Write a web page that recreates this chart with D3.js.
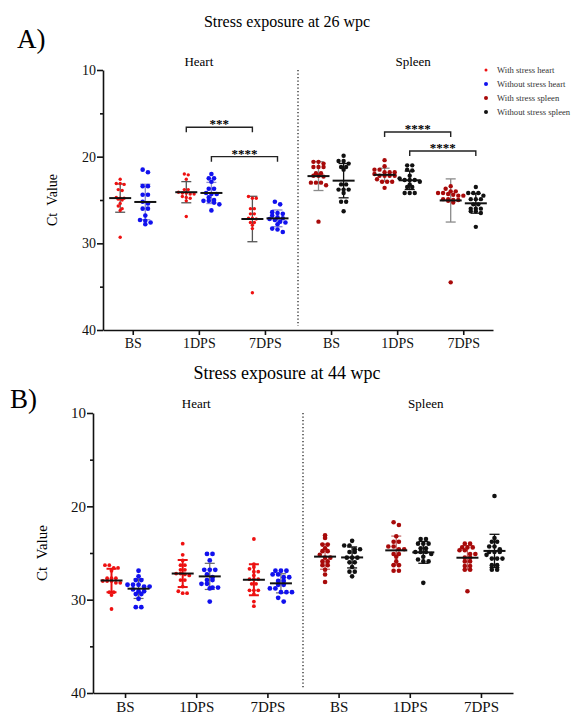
<!DOCTYPE html>
<html>
<head>
<meta charset="utf-8">
<script src="https://cdn.jsdelivr.net/npm/d3@7"></script>
<style>
  body { margin: 0; background: white; }
  svg { display: block; }
  svg text { font-family: "Liberation Serif", Tinos, "DejaVu Serif", serif; }
</style>
</head>
<body>
<script>
const times = ["BS", "1DPS", "7DPS"];
const tissues = ["Heart", "Spleen"];
const seriesNames = ["With stress heart", "Without stress heart", "With stress spleen", "Without stress spleen"];

// Ct values, one array per time point (BS, 1DPS, 7DPS)
const wpc26HeartStress = [
  [22.6, 23.1, 23.1, 23.2, 23.8, 23.9, 24.7, 24.8, 24.8, 24.9, 25.0, 25.4, 25.7, 26.0, 26.2, 29.3],
  [22.0, 22.1, 22.6, 23.8, 23.8, 24.1, 24.2, 24.3, 24.2, 24.3, 24.6, 24.7, 24.8, 25.1, 26.9],
  [24.6, 24.8, 24.8, 26.0, 26.0, 26.6, 26.6, 27.1, 27.1, 27.2, 27.6, 27.6, 27.9, 28.3, 35.7]
];
const wpc26HeartControl = [
  [21.5, 21.8, 23.4, 23.4, 24.4, 24.4, 25.2, 25.4, 26.0, 26.0, 26.8, 27.3, 27.4, 27.6, 27.8],
  [22.0, 22.5, 22.5, 22.9, 23.7, 23.7, 24.2, 24.3, 24.3, 24.7, 25.0, 25.1, 25.1, 25.3, 25.5, 26.2],
  [25.2, 25.5, 26.4, 26.5, 26.6, 26.8, 27.0, 27.1, 27.2, 27.3, 27.5, 27.6, 27.8, 28.3, 28.4, 28.7]
];
const wpc26SpleenStress = [
  [20.6, 20.6, 20.8, 21.2, 21.2, 21.2, 21.9, 21.9, 22.2, 22.2, 22.3, 23.0, 23.0, 23.0, 23.3, 27.5],
  [20.4, 21.1, 21.5, 21.5, 21.8, 21.8, 21.8, 22.0, 22.2, 22.2, 22.2, 22.2, 22.6, 22.9, 22.9, 22.9, 23.6],
  [23.4, 23.7, 24.0, 24.0, 24.2, 24.2, 24.3, 24.4, 24.5, 24.5, 24.9, 24.9, 25.0, 25.0, 25.1, 25.3, 34.5]
];
const wpc26SpleenControl = [
  [19.9, 20.5, 20.5, 20.8, 21.2, 21.2, 21.5, 23.2, 23.2, 23.8, 23.8, 23.8, 24.2, 25.2, 25.2, 26.3],
  [21.0, 21.0, 21.5, 21.6, 22.2, 22.9, 22.5, 22.7, 22.7, 22.7, 23.2, 23.5, 23.5, 24.2, 24.2, 24.2],
  [23.5, 24.2, 24.2, 24.2, 24.5, 24.9, 24.9, 24.9, 25.5, 25.5, 26.0, 26.0, 26.0, 26.3, 26.3, 26.5, 28.1]
];
const wpc44HeartStress = [
  [26.3, 26.3, 26.6, 26.6, 26.9, 27.7, 27.7, 27.7, 28.0, 28.0, 28.0, 28.2, 28.2, 29.2, 29.2, 29.5, 31.0],
  [24.0, 25.2, 25.8, 26.3, 26.3, 26.8, 26.8, 27.2, 27.2, 27.3, 27.4, 27.9, 27.9, 28.6, 29.1, 29.3, 29.3],
  [23.5, 26.2, 26.5, 26.7, 27.0, 27.0, 27.4, 27.8, 27.8, 27.8, 28.3, 28.3, 29.0, 29.0, 29.0, 29.4, 30.2, 30.7]
];
const wpc44HeartControl = [
  [26.9, 27.5, 27.9, 27.9, 28.4, 28.4, 28.4, 28.6, 28.6, 28.9, 29.1, 29.1, 29.4, 29.4, 29.9, 30.8, 30.8],
  [25.1, 25.1, 25.8, 26.8, 26.8, 26.8, 27.3, 27.9, 27.9, 27.6, 28.3, 28.3, 28.7, 28.7, 28.8, 30.2],
  [26.9, 26.9, 26.9, 27.3, 27.3, 27.6, 27.6, 28.0, 28.0, 28.4, 28.4, 28.8, 28.8, 29.2, 29.2, 29.2, 29.8, 30.2]
];
const wpc44SpleenStress = [
  [23.1, 23.4, 24.1, 24.1, 24.5, 24.8, 24.8, 25.2, 25.5, 25.5, 25.9, 25.9, 26.3, 26.3, 26.8, 27.3, 28.1],
  [21.7, 22.0, 23.2, 23.8, 23.8, 24.3, 24.3, 24.6, 24.6, 25.1, 25.1, 25.4, 25.9, 26.3, 26.3, 26.9, 26.9],
  [24.0, 24.0, 24.4, 24.4, 24.4, 24.7, 24.7, 25.1, 25.1, 25.5, 25.5, 25.9, 25.9, 26.4, 26.4, 26.8, 26.8, 29.1]
];
const wpc44SpleenControl = [
  [23.7, 24.2, 24.2, 24.6, 24.6, 24.9, 24.9, 25.5, 25.5, 25.5, 26.0, 26.0, 26.5, 27.0, 27.0, 27.5],
  [23.5, 23.5, 24.0, 24.0, 24.0, 24.5, 24.5, 24.9, 24.9, 24.9, 25.1, 25.4, 25.7, 25.9, 25.9, 28.2],
  [18.9, 23.4, 23.8, 23.8, 24.3, 24.3, 24.6, 24.9, 24.9, 24.9, 25.2, 25.6, 25.6, 25.6, 26.3, 26.3, 26.8, 26.8]
];

// significance brackets: [tissue, from time, to time, group index, label, bracket level (Ct)]
const sig26 = [
  ["Heart", "1DPS", "7DPS", 0, "***", 16.6],
  ["Heart", "1DPS", "7DPS", 1, "****", 20.0],
  ["Spleen", "1DPS", "7DPS", 0, "****", 17.15],
  ["Spleen", "1DPS", "7DPS", 1, "****", 19.35]
];

const serif = '"Liberation Serif", Tinos, "DejaVu Serif", serif';
const width = 574, height = 715;
const svg = d3.select("body").append("svg")
    .attr("width", width)
    .attr("height", height)
    .attr("font-family", serif);

const series = [
  {name: seriesNames[0], tissue: "Heart", g: 0, fill: "#ee1111"},
  {name: seriesNames[1], tissue: "Heart", g: 1, fill: "#1111ee"},
  {name: seriesNames[2], tissue: "Spleen", g: 0, fill: "#a80a0a"},
  {name: seriesNames[3], tissue: "Spleen", g: 1, fill: "#111111"}
];

// GraphPad-like scatter: points sharing a row spread sideways
function rows(values, y, gap, binH) {
  const pts = values.map(v => ({v, py: y(v)})).sort((a, b) => a.py - b.py);
  const bins = d3.group(pts, p => Math.round(p.py / binH));
  for (const b of bins.values()) {
    b.forEach((p, i) => p.dx = (i - (b.length - 1) / 2) * gap);
  }
  return pts;
}

function panel(o) {
  const g = svg.append("g");
  const keys = tissues.flatMap(t => times.map(c => t + "|" + c));
  const x = d3.scalePoint().domain(keys).range([o.left, o.right]).padding(0.45);
  const off = x.step() * 0.19;
  const y = d3.scaleLinear().domain([10, 40]).range([o.top, o.bottom]);

  // titles
  g.append("text")
      .attr("x", 287).attr("y", o.titleY)
      .attr("text-anchor", "middle")
      .attr("font-size", o.titleSize)
      .text(o.title);
  g.append("text")
      .attr("x", o.letterX).attr("y", o.letterY)
      .attr("font-size", 27)
      .text(o.letter);
  g.append("text")
      .attr("x", x("Heart|1DPS")).attr("y", o.subY)
      .attr("text-anchor", "middle")
      .attr("font-size", 13)
      .text("Heart");
  g.append("text")
      .attr("x", x("Spleen|1DPS") + 16).attr("y", o.subY)
      .attr("text-anchor", "middle")
      .attr("font-size", 13)
      .text("Spleen");

  // y label
  g.append("text")
      .attr("transform", `translate(${o.labelX},${(o.top + o.bottom) / 2}) rotate(-90)`)
      .attr("text-anchor", "middle")
      .attr("font-size", o.labelSize)
      .text("Ct\u00a0\u00a0Value");

  // separator
  const sx = (x("Heart|7DPS") + x("Spleen|BS")) / 2;
  g.append("line")
      .attr("x1", sx).attr("x2", sx)
      .attr("y1", o.top).attr("y2", o.bottom - 4)
      .attr("stroke", "#333")
      .attr("stroke-width", 1.4)
      .attr("stroke-dasharray", "1.3,2.2");

  // axes
  const ya = g.append("g")
      .attr("transform", `translate(${o.left},0)`)
      .call(d3.axisLeft(y).tickValues([10, 20, 30, 40]).tickSize(6).tickSizeOuter(0).tickPadding(1));
  g.append("g")
      .attr("transform", `translate(${o.left},0)`)
      .call(d3.axisLeft(y).tickValues([15, 25, 35]).tickSize(3).tickFormat(""))
      .call(s => s.select(".domain").remove());
  const xa = g.append("g")
      .attr("transform", `translate(0,${o.bottom})`)
      .call(d3.axisBottom(x).tickSize(5).tickSizeOuter(0).tickPadding(3)
        .tickFormat(k => k.split("|")[1]));
  for (const a of [ya, xa]) {
    a.attr("font-family", serif).attr("font-size", o.tickSize);
    a.selectAll("path, line").attr("stroke", "#111").attr("stroke-width", 1.6);
    a.selectAll("text").attr("fill", "#111");
  }
  g.selectAll(".tick line").attr("stroke", "#111").attr("stroke-width", 1.6);

  // data: error bars under the dots, mean line on top
  series.forEach((s, si) => {
    const r = o.radius[si];
    o.data[si].forEach((vals, ti) => {
      const cx = x(s.tissue + "|" + times[ti]) + (s.g ? off : -off);
      const m = d3.mean(vals), sd = d3.deviation(vals);
      const eb = g.append("g")
          .attr("stroke", o.barColors[si])
          .attr("stroke-width", o.barWidth[si]);
      eb.append("line")
          .attr("x1", cx).attr("x2", cx)
          .attr("y1", y(m - sd)).attr("y2", y(m + sd));
      eb.selectAll(".cap")
        .data([m - sd, m + sd])
        .join("line")
          .attr("x1", cx - 5).attr("x2", cx + 5)
          .attr("y1", d => y(d)).attr("y2", d => y(d));

      const pts = rows(vals, y, r * 2.3, r * 2);
      g.append("g").selectAll("circle")
        .data(pts)
        .join("circle")
          .attr("cx", p => cx + p.dx)
          .attr("cy", p => p.py)
          .attr("r", r)
          .attr("fill", s.fill);

      g.append("line")
          .attr("x1", cx - 11).attr("x2", cx + 11)
          .attr("y1", y(m)).attr("y2", y(m))
          .attr("stroke", "#111")
          .attr("stroke-width", 2);
    });
  });

  // brackets
  for (const [t, a, b, gi, label, level] of (o.sig || [])) {
    const xa0 = x(t + "|" + a) + (gi ? off : -off);
    const xb0 = x(t + "|" + b) + (gi ? off : -off);
    const yb = y(level);
    g.append("path")
        .attr("d", `M${xa0},${yb + 5}V${yb}H${xb0}V${yb + 5}`)
        .attr("fill", "none")
        .attr("stroke", "#222")
        .attr("stroke-width", 1.4);
    g.append("text")
        .attr("x", (xa0 + xb0) / 2).attr("y", yb + 1)
        .attr("text-anchor", "middle")
        .attr("font-size", 13)
        .attr("font-weight", "bold")
        .text(label);
  }
}

panel({
  left: 103, right: 493, top: 70, bottom: 330,
  data: [wpc26HeartStress, wpc26HeartControl, wpc26SpleenStress, wpc26SpleenControl],
  title: "Stress exposure at 26 wpc", titleY: 27, titleSize: 16,
  letter: "A)", letterX: 17, letterY: 48,
  subY: 66, labelX: 57, labelSize: 14, tickSize: 14,
  radius: [1.7, 2.3, 2.2, 2.2],
  barColors: ["#555", "#8a8ad0", "#8a8a8a", "#111"],
  barWidth: [1.3, 1.3, 1.3, 1.3],
  sig: sig26
});

panel({
  left: 93, right: 513, top: 413, bottom: 693,
  data: [wpc44HeartStress, wpc44HeartControl, wpc44SpleenStress, wpc44SpleenControl],
  title: "Stress exposure at 44 wpc", titleY: 379, titleSize: 18,
  letter: "B)", letterX: 10, letterY: 408,
  subY: 408, labelX: 47, labelSize: 15, tickSize: 15,
  radius: [1.9, 2.4, 2.3, 2.3],
  barColors: ["#e81010", "#666", "#c06060", "#111"],
  barWidth: [2, 1.2, 1.2, 1.3]
});

// legend
const legend = svg.append("g")
    .attr("transform", "translate(486,70)")
  .selectAll("g")
  .data(series)
  .join("g")
    .attr("transform", (d, i) => `translate(0,${i * 14})`);
legend.append("circle")
    .attr("r", (d, i) => i === 0 ? 1.5 : 2)
    .attr("fill", d => d.fill);
legend.append("text")
    .attr("x", 11).attr("dy", "0.35em")
    .attr("fill", "#333")
    .attr("font-size", 8.6)
    .text(d => d.name);
</script>
</body>
</html>
